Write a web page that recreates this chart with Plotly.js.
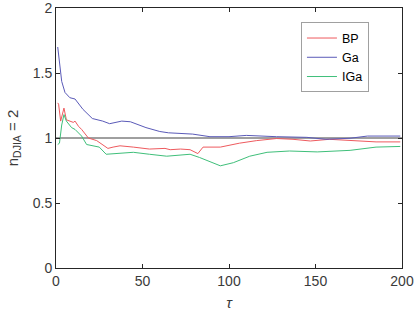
<!DOCTYPE html>
<html>
<head>
<meta charset="utf-8">
<script src="https://cdn.plot.ly/plotly-3.0.1.min.js"></script>
<style>html,body{margin:0;padding:0;background:#fff;}#chart{width:415px;height:315px;}</style>
</head>
<body>
<div id="chart"></div>
<script>
// BP series
const tauBP = [1, 1.5, 2.7, 4.6, 6, 8, 10, 11, 13, 14.8, 18.7, 23.5, 27, 30, 33, 37, 44.7, 54, 63, 66, 72, 77.5, 82, 85, 95, 106, 116, 127.5, 137, 147, 158, 170, 185, 199];
const valBP = [1.27, 1.26, 1.13, 1.23, 1.14, 1.13, 1.12, 1.13, 1.09, 1.066, 1.0, 0.98, 0.95, 0.92, 0.93, 0.94, 0.93, 0.915, 0.92, 0.91, 0.915, 0.91, 0.88, 0.93, 0.93, 0.96, 0.98, 0.996, 0.99, 0.977, 0.99, 0.98, 0.97, 0.97];
// Ga series
const tauGa = [1, 2, 3.3, 5.2, 8, 11, 15.6, 21, 27, 31, 38, 43, 52, 60, 65, 79, 89, 100, 110, 127.5, 145, 156, 170, 180, 199];
const valGa = [1.70, 1.60, 1.435, 1.35, 1.31, 1.30, 1.22, 1.15, 1.13, 1.11, 1.13, 1.125, 1.08, 1.05, 1.04, 1.03, 1.01, 1.01, 1.02, 1.01, 1.005, 0.99, 0.998, 1.015, 1.015];
// IGa series
const tauIGa = [1, 2, 3.3, 4.6, 6, 9, 11, 14.8, 17.7, 25, 29, 34, 44.7, 54, 64, 77.5, 83, 95, 102.5, 112, 122, 135, 151, 170, 185, 199];
const valIGa = [0.95, 0.96, 1.10, 1.18, 1.13, 1.08, 1.066, 1.015, 0.95, 0.93, 0.875, 0.88, 0.89, 0.875, 0.86, 0.875, 0.85, 0.786, 0.81, 0.86, 0.89, 0.90, 0.893, 0.905, 0.93, 0.935];
// Reference line
const tauRef = [0, 200];
const valRef = [1, 1];

const axisColor = '#262626';
const labelColor = '#3a3a3a';
const traces = [
  {x: tauRef, y: valRef, mode: 'lines', line: {color: '#404040', width: 1}, showlegend: false, hoverinfo: 'skip'},
  {x: tauBP, y: valBP, name: 'BP', mode: 'lines', line: {color: '#ee5a5e', width: 1}},
  {x: tauGa, y: valGa, name: 'Ga', mode: 'lines', line: {color: '#5a5ab8', width: 1}},
  {x: tauIGa, y: valIGa, name: 'IGa', mode: 'lines', line: {color: '#3fbf7a', width: 1}}
];
const layout = {
  width: 415, height: 315,
  margin: {l: 56, r: 13, t: 8, b: 47},
  paper_bgcolor: '#fff', plot_bgcolor: '#fff',
  font: {family: 'Liberation Sans, Arial, sans-serif', size: 14, color: labelColor},
  showlegend: true,
  legend: {x: 0.708, y: 0.81, xanchor: 'left', yanchor: 'middle', bordercolor: '#a0a0a0', borderwidth: 1, bgcolor: '#fff',
           font: {size: 12.5, color: '#000'}, tracegroupgap: 0, itemwidth: 30},
  xaxis: {range: [0, 200], dtick: 50, tick0: 0, ticks: 'inside', ticklen: 4, tickcolor: axisColor,
          showline: true, linecolor: axisColor, linewidth: 1, mirror: 'ticks', showgrid: false, zeroline: false,
          ticklabeloverflow: 'allow',
          title: {text: '<i>τ</i>', font: {size: 15, color: labelColor}, standoff: 9}},
  yaxis: {range: [0, 2], dtick: 0.5, tick0: 0, ticks: 'inside', ticklen: 4, tickcolor: axisColor,
          showline: true, linecolor: axisColor, linewidth: 1, mirror: 'ticks', showgrid: false, zeroline: false,
          ticklabeloverflow: 'allow',
          title: {text: 'n<sub>DJIA</sub> = 2', font: {size: 15, color: labelColor}, standoff: 10}}
};
Plotly.newPlot('chart', traces, layout, {displayModeBar: false, staticPlot: true});
</script>
</body>
</html>
